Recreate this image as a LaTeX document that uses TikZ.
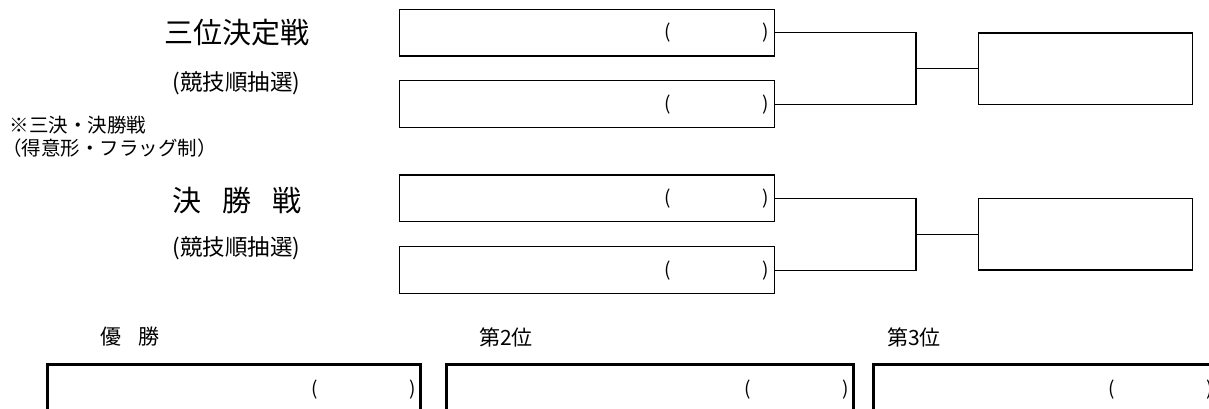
\documentclass[tikz,border=0pt]{standalone}
\usepackage{fontspec}
\setmainfont{Noto Sans CJK JP}
\usepackage{graphicx}
\usetikzlibrary{calc}
\tikzset{
 entry/.style={draw=black, line width=1.2pt, minimum width=375pt, minimum height=46.7pt, inner sep=0pt, outer sep=0pt},
 winner/.style={draw=black, line width=1.2pt, minimum width=214.4pt, minimum height=71.5pt, inner sep=0pt, outer sep=0pt},
 result/.style={draw=black, line width=3pt, minimum height=75.7pt, inner sep=0pt, outer sep=0pt},
 paren/.style={inner sep=0pt, font=\fontsize{19}{19}\selectfont},
 link/.style={line width=1.2pt},
 title/.style={inner sep=0pt, font=\fontsize{29}{29}\selectfont},
 sub/.style={inner sep=0pt, font=\fontsize{22.5}{22.5}\selectfont},
 note/.style={inner sep=0pt, anchor=west, font=\fontsize{19.5}{19.5}\selectfont},
 place/.style={inner sep=0pt, anchor=west, font=\fontsize{21}{21}\selectfont},
}
\begin{document}
\begin{tikzpicture}[x=1pt,y=-1pt]
\useasboundingbox (0,0) rectangle (1209,408);
% left labels
\node[title] (t1) at (237,33) {三位決定戦};
\node[sub] (s1) at (236.5,83) {(競技順抽選)};
\node[note] (n1) at (9.5,125) {※三決・決勝戦};
\node[note] (n2) at (2,148) {（得意形・フラッグ制）};
\node[title] (t2) at (237,200) {決\hspace{21pt}勝\hspace{21pt}戦};
\node[sub] (s2) at (236.5,248) {(競技順抽選)};
% entry boxes
\node[entry] (b1) at (586.8,32.7) {};
\node[entry] (b2) at (586.8,104.2) {};
\node[entry] (b3) at (586.8,198.4) {};
\node[entry] (b4) at (586.8,270.1) {};
\foreach \b in {b1,b2,b3,b4}{
  \node[paren] (\b l) at ($(\b.east)+(-106.6,0)$) {(};
  \node[paren] (\b r) at ($(\b.east)+(-8.6,0)$) {)};
}
% winner boxes
\node[winner] (r1) at (1085.5,68.65) {};
\node[winner] (r2) at (1085.5,234.15) {};
\coordinate (j1) at (916,68.65);
\coordinate (j2) at (916,234.15);
\draw[link] (b1.east) -| (j1) |- (b2.east);
\draw[link] (j1) -- (r1.west);
\draw[link] (b3.east) -| (j2) |- (b4.east);
\draw[link] (j2) -- (r2.west);
% bottom results
\node[place] (p1) at (100,337) {優\hspace{17pt}勝};
\node[place] (p2) at (479,337) {第2位};
\node[place] (p3) at (887,337) {第3位};
\node[result, minimum width=373pt] (w1) at (234.2,402.15) {};
\node[result, minimum width=406.6pt] (w2) at (650,402.15) {};
\node[result, minimum width=344.7pt] (w3) at (1045.65,402.15) {};
\foreach \w in {w1,w2,w3}{
  \node[paren] (\w l) at ($(\w.north east)+(-106,25.7)$) {(};
  \node[paren] (\w r) at ($(\w.north east)+(-8,25.7)$) {)};
}
\end{tikzpicture}
\end{document}
